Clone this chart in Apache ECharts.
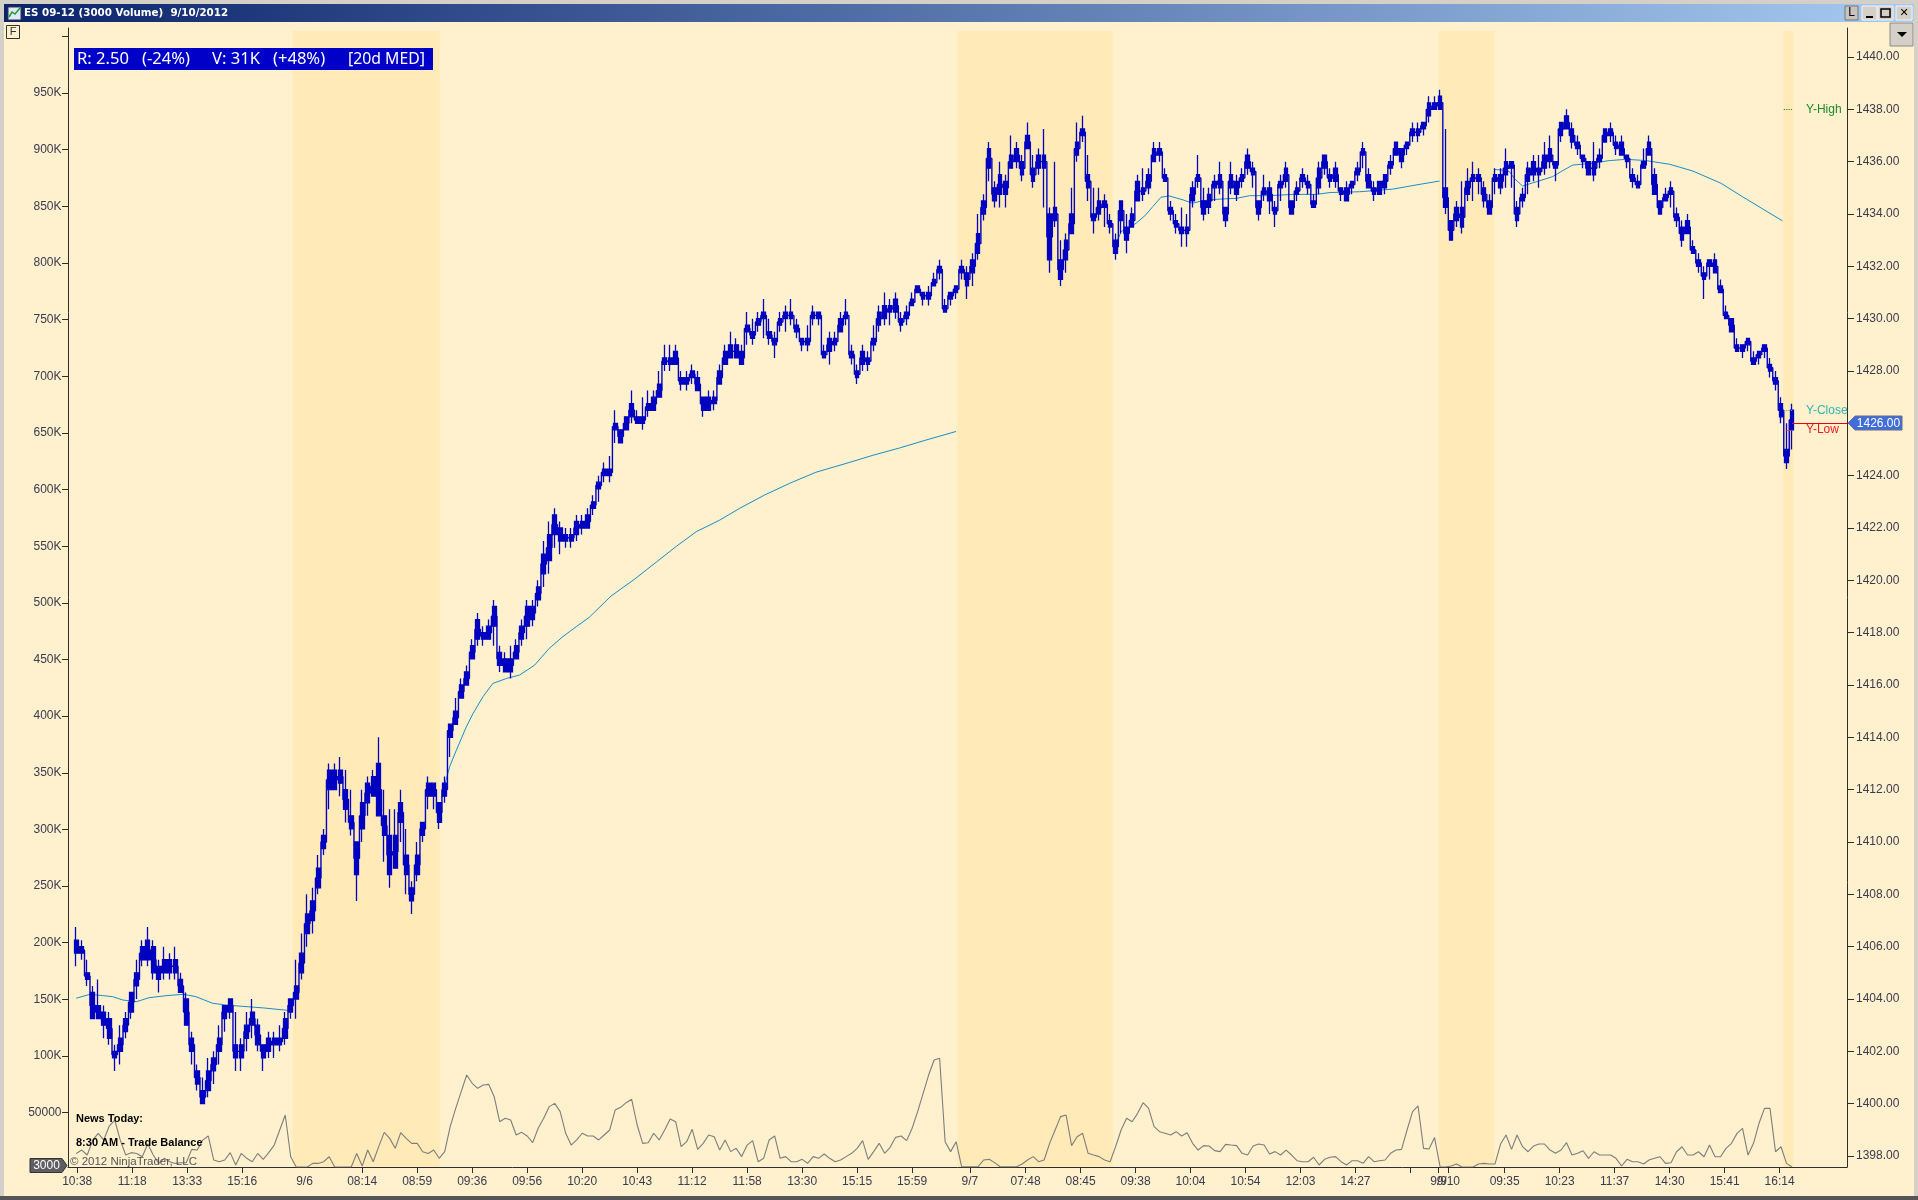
<!DOCTYPE html>
<html><head><meta charset="utf-8"><title>ES 09-12</title>
<style>html,body{margin:0;padding:0;background:#fff1cd}#c{width:1918px;height:1200px}</style>
<script src="https://cdn.jsdelivr.net/npm/echarts@6/dist/echarts.min.js"></script>
</head><body><div id="c"></div>
<script>
// Each row: [high, bodyTop, bodyBottom, low], one row per 4 bars
const sep5Bars=[
[1406.75,1406.25,1405.75,1405.25],[1406.25,1406,1405.75,1405.5],[1405.5,1405,1404.75,1404.5],[1404.5,1404.25,1403.25,1403.25],[1404.75,1403.75,1403.25,1403.25],
[1403.75,1403.5,1403,1402.5],[1403.5,1403.25,1402.5,1402.25],[1402.25,1402,1401.75,1401.25],[1403,1402.5,1402,1401.5],[1403.5,1403.25,1402.75,1402.5],
[1404.25,1404.25,1403.5,1403.25],[1405.5,1405,1404.5,1404],[1406.25,1406,1405.5,1405.25],[1406.75,1406.25,1405.5,1405.25],[1406.25,1406,1405,1404.75],
[1405.5,1405.25,1404.75,1404.25],[1406,1405.5,1405,1404.75],[1405.75,1405.5,1405,1404.75],[1406,1405.5,1405,1404.75],[1405,1404.75,1404.25,1404.25],
[1404.25,1404,1403,1403],[1402.75,1402.5,1402,1401.5],[1401.5,1401.25,1400.75,1400.5],[1401,1400.5,1400,1400],[1401.75,1401.25,1400.5,1400.25],
[1402,1401.75,1401.25,1400.75],[1403,1402.5,1402,1401.5],[1403.75,1403.75,1403.25,1402.75],[1404,1404,1403.5,1403.25],[1403.5,1402.25,1401.75,1401.25],
[1402.5,1402.25,1401.75,1401.25],[1403.5,1403,1402.5,1402],[1404,1403.5,1403,1402.5],[1403.25,1403,1402.25,1402],[1402.25,1402.25,1401.75,1401.25],
[1402.75,1402.5,1402,1401.75],[1402.75,1402.5,1402.25,1401.75],[1403,1402.5,1402.25,1402],[1403.5,1403.25,1402.5,1402.25],[1404,1404,1403.5,1403.25]];
const sep6Bars=[
[1405.5,1404.5,1404,1403.25],[1406.5,1405.75,1405,1404.75],[1408,1407.25,1406.5,1406],[1408.25,1407.75,1407,1406.5],[1409.5,1409,1408.25,1408],
[1410.5,1410.25,1409.75,1409.5],[1413,1412.75,1412,1411.25],[1413,1412.75,1412,1412],[1413.25,1412.75,1412.25,1411.75],[1412.75,1412,1411.25,1410.75],
[1412,1411,1410.5,1410.25],[1410,1410,1408.75,1407.75],[1412,1411.5,1410.5,1410],[1412.5,1412.25,1411.5,1411],[1412.75,1412.5,1411.75,1411.75],
[1414,1413,1411,1411],[1412,1411,1410.25,1409.25],[1411.25,1410.25,1408.75,1408.25],[1411.25,1410.25,1409,1409],[1412,1411.5,1410.75,1410],
[1410.5,1409.5,1408.75,1408],[1408.5,1408.25,1407.75,1407.25],[1410,1409.5,1408.75,1408.5],[1410.75,1410.75,1410.25,1410],[1412.5,1412.25,1411.75,1411.25],
[1412.25,1412.25,1411.75,1411.25],[1411.5,1411.5,1410.75,1410.5],[1412.5,1412.25,1411.75,1411.5],[1414.5,1414.5,1414,1413.25],[1415.5,1415,1414.5,1414.5],
[1416.25,1416,1415.5,1415.5],[1416.75,1416.5,1416,1416],[1417.75,1417.5,1417,1417],[1418.75,1418.5,1417.75,1417.5],[1418.25,1418,1417.75,1417.5],
[1418.5,1418.25,1417.75,1417.75],[1419.25,1419,1418.25,1417.5],[1417.5,1417.25,1416.75,1416.5],[1417.25,1417,1416.5,1416.5],[1417.5,1417,1416.5,1416.25],
[1417.75,1417.5,1417,1417],[1418.5,1418.25,1417.75,1417.5],[1419.25,1419,1418.25,1417.75],[1419.25,1419,1418.5,1418.25],[1420,1419.75,1419.25,1419],
[1421.5,1421,1420.25,1419.75],[1422.25,1421.75,1420.75,1420.25],[1422.75,1422.5,1421.75,1421.25],[1422.25,1422,1421.5,1421],[1422,1421.75,1421.5,1421.25],
[1422,1421.75,1421.5,1421.25],[1422.5,1422.25,1421.75,1421.5],[1422.5,1422.25,1422,1421.75],[1422.75,1422.5,1422,1422],[1423.25,1423,1422.75,1422.5],
[1424,1423.75,1423.5,1423],[1424.5,1424.25,1424,1423.75],[1424.75,1424.25,1424,1423.75],[1426.5,1426,1425.75,1425.25],[1425.75,1425.75,1425.25,1425.25],
[1426.25,1426.25,1425.75,1425.75],[1427.25,1426.75,1426.25,1426],[1426.5,1426.25,1426,1426],[1427,1426.25,1426,1425.75],[1427.25,1426.75,1426.5,1426.25],
[1427.25,1427,1426.5,1426.5],[1428,1427.5,1427,1427],[1429,1428.5,1428.25,1428],[1429,1428.5,1428.25,1428],[1429,1428.75,1428.25,1428.25],
[1428,1427.75,1427.5,1427.25],[1428,1427.75,1427.5,1427.25],[1428.25,1428,1427.75,1427.5],[1428,1427.75,1427.25,1427.25],[1427,1427,1426.5,1426.25],
[1427.25,1427,1426.5,1426.5],[1427.25,1427,1426.75,1426.5],[1428.25,1428,1427.5,1427.5],[1429,1428.75,1428.25,1428.25],[1429.5,1429,1428.5,1428.5],
[1429.25,1429,1428.5,1428.5],[1429,1428.75,1428.25,1428.25],[1430.25,1429.75,1429.5,1429],[1430,1429.5,1429.25,1429],[1430.25,1430,1429.75,1429.5],
[1430.75,1430.25,1430,1429.25],[1430,1429.5,1429.25,1429],[1429.5,1429.25,1429,1428.5],[1430.25,1430,1429.75,1429.5],[1430.5,1430.25,1430,1429.5],
[1430.75,1430.25,1430,1429.75],[1430,1429.75,1429.5,1429.25],[1429.25,1429.25,1429,1428.75],[1429.75,1429.25,1429,1428.75],[1430.5,1430.25,1430,1429.75],
[1430.25,1430.25,1430,1429.75],[1429,1428.75,1428.5,1428.5],[1429.5,1429.25,1428.75,1428.25],[1429.5,1429.25,1429,1428.75],[1430.25,1430,1429.5,1429.5],
[1430.75,1430.25,1430,1429.75],[1429,1428.75,1428.5,1428.25],[1428.25,1428,1427.75,1427.5],[1429,1428.75,1428.25,1428],[1428.75,1428.5,1428.25,1428],
[1429.75,1429.25,1429,1428.75],[1430.5,1430.25,1429.75,1429.5],[1431,1430.5,1430,1429.75],[1430.75,1430.5,1430.25,1429.75],[1431,1430.75,1430.25,1430],
[1430.25,1430,1429.75,1429.5],[1430.5,1430.25,1430,1429.75],[1431,1430.75,1430.5,1430.5],[1431.25,1431.25,1431,1431],[1431,1431,1430.75,1430.5],
[1431.25,1431,1430.75,1430.5],[1431.75,1431.5,1431.25,1431.25],[1432.25,1432,1431.75,1431.5],[1430.75,1430.5,1430.25,1430.25],[1431,1431,1430.75,1430.5],
[1431.25,1431.25,1431,1430.75]];
const sep7Bars=[
[1432.25,1432,1431.75,1431.5],[1432,1431.75,1431.25,1430.75],[1432.5,1432.25,1431.75,1431.25],[1434,1433.25,1432.5,1432.25],[1434.75,1434.5,1434,1433.75],
[1436.75,1436.5,1435.75,1435.25],[1435.25,1435,1434.5,1434.25],[1436,1435.5,1434.75,1434.25],[1435.5,1435.25,1434.75,1434.25],[1437,1436.25,1435.75,1435.75],
[1436.75,1436.5,1436,1435.75],[1436.25,1436,1435.5,1435.25],[1437.5,1437,1436.5,1436.5],[1436.25,1435.75,1435.25,1435],[1436.5,1436.25,1435.75,1435.5],
[1437.25,1436.25,1435.75,1434.25],[1434.25,1434,1432.25,1431.75],[1436,1434.25,1433.75,1433.5],[1433,1432.25,1431.5,1431.25],[1433.25,1433,1432.25,1431.75],
[1435,1434,1433.25,1433.25],[1437.5,1436.75,1436.25,1436],[1437.75,1437.25,1437,1436.75],[1436.25,1435.5,1435,1434.5],[1435,1434,1433.75,1433.25],
[1435,1434.5,1434,1433.75],[1434.75,1434.5,1434.25,1433.5],[1434,1433.75,1433.5,1433.25],[1433.25,1433,1432.5,1432.25],[1434.5,1434.5,1433.75,1433.25],
[1434,1433.5,1433,1432.5],[1434.25,1434,1433.5,1433.5],[1435.5,1435.25,1434.5,1434.5],[1435.75,1435,1434.75,1434.5],[1435.75,1435.5,1435,1434.75],
[1436.75,1436.5,1436,1436],[1436.75,1436.5,1436.25,1436],[1435.75,1435.5,1435.25,1435.25],[1434.5,1434.25,1434,1433.75],[1434,1433.75,1433.5,1433.25],
[1434.25,1433.5,1433.25,1432.75],[1434,1433.5,1433.25,1432.75],[1435.25,1435,1434.5,1434.25],[1436.25,1435.5,1435.25,1435],[1435,1434.5,1434,1433.75],
[1435,1434.75,1434.25,1434],[1435.5,1435.25,1435,1434.5],[1436,1435.5,1435,1434.75],[1434.25,1434.25,1433.75,1433.5],[1436,1435.5,1435,1434.75],
[1435.5,1435.25,1434.75,1434.5],[1435.75,1435.5,1435.25,1435],[1436.5,1436.25,1435.75,1435.5],[1436,1435.75,1435.5,1435],[1434.5,1434.5,1434,1433.75],
[1435.5,1435,1434.75,1434.5],[1435.25,1435,1434.5,1434],[1434.5,1434.25,1434,1433.5],[1435.5,1435.25,1435,1434.5],[1436,1435.75,1435.25,1435],
[1434.5,1434.5,1434,1434],[1435.25,1435,1434.75,1434.5],[1435.75,1435.5,1435.25,1435],[1435.5,1435.25,1435,1434.75],[1434.75,1434.5,1434.25,1434.25],
[1436,1435.75,1435,1434.75],[1436.25,1436.25,1435.75,1435.5],[1435.75,1435.5,1435.25,1435],[1436,1435.75,1435.25,1435],[1435,1435,1434.75,1434.5],
[1435.25,1435,1434.5,1434.5],[1435.25,1435.25,1435,1434.75],[1436,1435.75,1435.5,1435.25],[1436.75,1436.5,1436.25,1435.75],[1435.75,1435.5,1435,1435],
[1435.25,1435,1434.75,1434.5],[1435.25,1435.25,1434.75,1434.75],[1435.5,1435.5,1435,1434.75],[1436.25,1436,1435.75,1435.5],[1436.75,1436.75,1436.25,1436.25],
[1436.5,1436.5,1436,1435.75],[1436.75,1436.75,1436.5,1436.25],[1437.5,1437.25,1437,1436.75],[1437.5,1437.25,1437,1436.75],[1437.5,1437.5,1437.25,1437],
[1438.5,1438.25,1437.75,1437.5],[1438.5,1438.25,1438,1438],[1438.75,1438.5,1438,1438]];
const sep10Bars=[
[1437.25,1435,1434.25,1434],[1433.75,1433.75,1433,1433],[1434.5,1434.25,1433.75,1433.5],[1435.25,1434.25,1433.5,1433.25],[1435.75,1435.25,1434.75,1434.5],
[1436,1435.5,1435.25,1434.5],[1435.75,1435.5,1435.25,1434.75],[1435.25,1435,1434.5,1434.25],[1434.75,1434.5,1434,1434],[1435.75,1435.5,1435.25,1434.75],
[1435.75,1435.5,1435,1434.75],[1436.5,1436,1435.5,1435],[1436,1436,1435.75,1435],[1434.5,1434.25,1433.75,1433.5],[1435,1434.75,1434.5,1434.25],
[1436,1435.75,1435.25,1434.75],[1436.25,1436,1435.5,1435.25],[1436.25,1435.75,1435.5,1435],[1436.75,1436.25,1435.75,1435.5],[1437,1436.5,1436,1435.75],
[1436,1436,1435.75,1435.25],[1437.5,1437.5,1437,1436.75],[1438,1437.75,1437.25,1437.25],[1437.5,1437.25,1436.75,1436.5],[1437,1436.75,1436.5,1436.25],
[1436.25,1436.25,1436,1435.75],[1436,1436,1435.5,1435.5],[1436.75,1436,1435.5,1435.25],[1436.5,1436.25,1436,1435.75],[1437.25,1437.25,1436.75,1436.75],
[1437.5,1437.25,1437,1436.75],[1437,1436.75,1436.5,1436.25],[1437,1436.75,1436.25,1436.25],[1436.25,1436.25,1436,1435.75],[1435.75,1435.5,1435.25,1435],
[1435.5,1435.25,1435,1435],[1436.5,1436,1435.75,1435.75],[1437,1436.75,1436.25,1436.25],[1435.75,1435.5,1434.75,1434.75],[1434.5,1434.5,1434,1434],
[1435,1434.75,1434.5,1434.5],[1435.25,1435,1434.75,1434.25],[1434.25,1434,1433.75,1433.5],[1433.75,1433.5,1433,1432.75],[1434,1433.75,1433.25,1433.25],
[1433,1432.75,1432.5,1432.5],[1432.5,1432.25,1432,1431.75],[1432,1431.75,1431.5,1430.75],[1432.25,1432.25,1432,1431.5],[1432.5,1432.25,1431.75,1431.75],
[1431.5,1431.25,1431,1431],[1430.5,1430.25,1430,1430],[1430,1430,1429.5,1429.5],[1429.25,1429,1428.75,1428.75],[1429,1429,1428.75,1428.5],
[1429.25,1429.25,1429,1428.75],[1428.75,1428.5,1428.25,1428.25],[1428.75,1428.75,1428.5,1428.25],[1429,1429,1428.75,1428.5],[1428.5,1428.25,1428,1427.75],
[1428,1427.75,1427.5,1427.25],[1427,1426.75,1426.25,1426],[1426,1425,1424.5,1424.25],[1426.75,1426.5,1425.75,1425]];

// Volume in thousands, same spacing as the price rows
const sep5VolumeK=[14,17,12.6,25.8,31.7,25.8,38.2,43.5,25.8,12.6,14.7,14,11.1,22.3,12.6,5.2,9.7,6.7,5.2,5.8,5.8,17.6,17,25.8,29.4,8.2,6.7,8.2,14.7,3.8,14,9.7,6.7,14,8.8,14.7,21.4,34.7,47.9,11.1];
const sep6VolumeK=[2,2,2,5.2,5.2,6.7,11.1,2,2,2,2,14,2.9,17,6.7,20,32.6,27.3,18.5,32.3,27.3,22.9,22.9,15.5,14,17,9.7,
15.6,37.6,53.8,68.5,83.2,75.9,71.5,74.4,75,64.1,42,45,43.5,30.3,32.6,29.4,23.5,36.2,45,55.3,58.2,50.9,31.8,21.4,25.9,31.8,29.4,29.4,25.9,30.3,34.7,52.3,54.7,58.8,61.8,39.1,22.9,23.5,31.8,25.9,34.7,44.4,42,20,24.4,35.3,17.6,22.9,30.3,28.8,17,25.9,15.6,18.5,11.2,21.4,25.3,6.7,9.7,25.9,29.4,9.7,11.2,6.7,6.7,8.8,5.3,11.2,9.7,13.5,9.7,6.7,8.2,11.2,14.1,18.5,25.3,8.8,15.6,22.9,14.1,19.4,28.2,29.4,25.3,36.2,50.9,67,83.2,96.5,98,24.4,15.6,24.4];
const sep7VolumeK=[2.3,2.3,2.3,2.3,8.2,8.8,5.9,2.3,2.3,2.3,2.3,4.7,8.2,11.2,6.7,8.2,22.9,34.7,46.5,47.9,20.9,28.8,31.8,14.1,12.6,11.2,8.2,6.7,20,34.7,45,42,49.4,58.8,53.8,37.6,33.2,31.8,30.3,33.2,29.4,32.3,22.9,17,20.9,20.6,16.5,15.6,22,21.4,20.9,14.1,12.6,20.6,22.3,21.4,13.5,15.6,12.6,17,12.6,7.6,6.7,6.7,10.6,3.8,8.8,10.6,11.2,6.7,3.8,7.6,7.6,5.3,11.2,6.7,7.6,8.2,14.1,17,17.6,34.7,50.9,55.9,18.5,17.9,28,2.3];
const sep10VolumeK=[2,2.9,4.7,2,2,2,4.7,5.2,4.7,4.7,22.3,30.3,17.6,30.3,20,15.5,20.5,22.3,22.3,17,14.1,17,23.5,12.6,14.1,16.4,9.7,15.5,12.6,12.6,12.6,9.7,2.9,8.8,6.7,6.7,4.7,8.2,9.7,11.1,5.2,5.8,15.5,19.9,12.6,12.6,15.5,11.1,21.4,11.1,11.1,18.5,22.9,31.7,36.1,12.6,22.9,40.6,53.8,53.8,15.5,19.9,5.2,2];

// Moving average: [bar number, price]
const maSep5=[[6,1404.03],[16,1404.18],[25,1404.13],[32.5,1404.09],[40,1403.96],[50,1403.9],[59,1404.05],[72,1404.13],[84,1404.18],[93,1404.09],[105,1403.84],[115,1403.77],[127,1403.72],[142,1403.66],[161,1403.56]];
const maSep6=[[271.6,1411.67],[275,1412.37],[277.6,1412.88],[282.5,1413.51],[289.7,1414.4],[294.5,1414.9],[301.8,1415.55],[309,1416.06],[319,1416.25],[328.5,1416.38],[339.4,1416.76],[350,1417.4],[360,1417.85],[369.7,1418.23],[379,1418.58],[395,1419.4],[412,1420.04],[428,1420.7],[442.5,1421.3],[457,1421.86],[474,1422.3],[488.5,1422.75],[506.7,1423.26],[525,1423.71],[544,1424.13],[568,1424.5],[585.5,1424.78],[605,1425.06],[624,1425.36],[646,1425.69]];
const maSep7=[[760,1432.95],[763.6,1433.01],[766,1433.33],[771,1433.46],[777,1433.65],[784,1433.97],[789,1434.28],[795,1434.64],[801,1434.69],[811,1434.54],[818,1434.41],[825.5,1434.51],[835,1434.56],[850,1434.6],[859.5,1434.7],[874,1434.7],[891,1434.75],[908,1434.75],[918,1434.82],[939.4,1434.85],[963.6,1434.95],[980.7,1435.11],[997.6,1435.26]];
const maSep10=[[1037.6,1435.7],[1043.6,1435.68],[1048.5,1435.62],[1052,1435.36],[1058,1435.07],[1068,1435.23],[1080,1435.43],[1087.3,1435.66],[1094.5,1435.87],[1109,1435.94],[1121,1436.04],[1133.4,1436.09],[1148,1436.04],[1165,1435.9],[1182,1435.64],[1202.5,1435.17],[1218,1434.66],[1247,1433.74]];

// Tick labels and their bar numbers
const timeLabels=['10:38','11:18','13:33','15:16','9/6','08:14','08:59','09:36','09:56','10:20','10:43','11:12','11:58','13:30','15:15','15:59','9/7','07:48','08:45','09:38','10:04','10:54','12:03','14:27','9/9','9/10','09:35','10:23','11:37','14:30','15:41','16:14'];
const timeLabelBars=[6.7,46.7,86.7,126.7,172,214,254,294,334,374,414,454,494,534,574,614,656,696.5,736.5,776.5,816.5,856.5,896.5,936.5,997,1004,1045,1085,1125,1165,1205,1245];
const timeTickBars=[6.7,46.7,86.7,126.7,214,254,294,334,374,414,454,494,534,574,614,656,696.5,736.5,776.5,816.5,856.5,896.5,936.5,976.5,997,1004,1045,1085,1125,1165,1205,1245];
const volumeLabels=[50000,100000,150000,200000,250000,300000,350000,400000,450000,500000,550000,600000,650000,700000,750000,800000,850000,900000,950000];
const volumeTicks=volumeLabels.concat([1000000]);
const priceTicks=[1398,1400,1402,1404,1406,1408,1410,1412,1414,1416,1418,1420,1422,1424,1426,1428,1430,1432,1434,1436,1438,1440];

// Overnight shading in bar numbers
const bandStarts=[163.4,647,997,1247.7];
const bandEnds=[270.3,760,1037.6,1255];

const yHigh=1438, yClose=1426.5, yLow=1425.75, lastPrice=1426;
const firstBar=6, barsPerRow=4;

const priceBars=[].concat(sep5Bars,sep6Bars,sep7Bars,sep10Bars);
const volumeK=[].concat(sep5VolumeK,sep6VolumeK,sep7VolumeK,sep10VolumeK);
const candleData=priceBars.map((b,i)=>[firstBar+barsPerRow*i,b[2],b[1],b[3],b[0]]);
const stepData=priceBars.map((b,i)=>[firstBar+barsPerRow*i,(b[1]+b[2])/2]);
const volumeData=volumeK.map((v,i)=>[firstBar+barsPerRow*i,v*1000]);

const BLUE='#0000c0', AXIS='#2e2e2e', TXT='#3b3a4e';
const maSeries=(d)=>({type:'line',yAxisIndex:1,data:d,symbol:'none',z:4,silent:true,lineStyle:{color:'#1a8cc8',width:1}});
const level=(y,x0,x1,label,color,type)=>[{coord:[x0,y],lineStyle:{color,width:1.2,type},label:{show:!!label,formatter:label,position:'end',distance:14,color,fontSize:12,fontFamily:'Liberation Sans',padding:[5,0,0,0]}},{coord:[x1,y]}];

const chart=echarts.init(document.getElementById('c'),null,{renderer:'canvas',width:1918,height:1200});
chart.setOption({
 animation:false,backgroundColor:'#fff1cd',
 grid:{left:68,right:71,top:28,bottom:33},
 xAxis:{type:'value',min:0,max:1294,splitLine:{show:false},
  axisLine:{onZero:false,lineStyle:{color:AXIS,width:1}},
  axisTick:{length:6,lineStyle:{color:AXIS},customValues:timeTickBars},
  axisLabel:{customValues:timeLabelBars,color:TXT,fontSize:12,fontFamily:'Liberation Sans',margin:9,hideOverlap:false,showMinLabel:true,showMaxLabel:true,
   formatter:v=>timeLabels[timeLabelBars.indexOf(v)]||''}},
 yAxis:[
  {type:'value',position:'left',min:2030,max:1007400,splitLine:{show:false},
   axisLine:{show:true,onZero:false,lineStyle:{color:AXIS}},
   axisTick:{show:true,length:6,lineStyle:{color:AXIS},customValues:volumeTicks},
   axisLabel:{customValues:volumeLabels,color:TXT,fontSize:12,fontFamily:'Liberation Sans',margin:6.5,padding:[6,0,0,0],
    formatter:v=>v<100000?String(v):(v/1000)+'K'}},
  {type:'value',position:'right',min:1397.58,max:1441.108,splitLine:{show:false},
   axisLine:{show:true,onZero:false,lineStyle:{color:AXIS}},
   axisTick:{show:true,length:7,lineStyle:{color:AXIS},customValues:priceTicks},
   axisLabel:{customValues:priceTicks,color:TXT,fontSize:12,fontFamily:'Liberation Sans',margin:9,padding:[6,0,0,0],formatter:v=>v.toFixed(2)}}
 ],
 series:[
  {type:'line',yAxisIndex:1,data:[],z:1,silent:true,
   markArea:{silent:true,z:1,itemStyle:{color:'#ffeab8'},
    data:bandStarts.map((s,i)=>[{xAxis:s,yAxis:1440.99},{xAxis:bandEnds[i],yAxis:1397.58}])}},
  {type:'line',yAxisIndex:0,data:volumeData,symbol:'none',z:3,silent:true,lineStyle:{color:'#7d7d7d',width:1.1}},
  maSeries(maSep5),maSeries(maSep6),maSeries(maSep7),maSeries(maSep10),
  {type:'line',yAxisIndex:1,data:stepData,step:'middle',symbol:'none',z:5,silent:true,lineStyle:{color:BLUE,width:1.4}},
  {type:'candlestick',yAxisIndex:1,data:candleData,encode:{x:0,y:[1,2,3,4]},barWidth:4.2,z:5,silent:true,clip:false,
   itemStyle:{color:BLUE,color0:BLUE,borderColor:BLUE,borderColor0:BLUE,borderWidth:1.3},
   markLine:{silent:true,symbol:'none',z:6,animation:false,
    data:[
     level(yHigh,1248,1254,'Y-High','#1b8a2d','dotted'),
     level(yClose,1248,1254,'Y-Close','#2fb6ae','dotted'),
     level(yLow,1250,1254,'Y-Low','#ee1c25','dotted'),
     level(lastPrice,1254,1294,'','#e8000b','solid')
    ]}}
 ],
 graphic:{elements:[
  // window frame
  {type:'rect',shape:{x:0,y:0,width:1918,height:4},style:{fill:'#d4d0c8'},z:20},
  {type:'rect',shape:{x:0,y:0,width:4,height:1200},style:{fill:'#d4d0c8'},z:20},
  {type:'rect',shape:{x:1914,y:0,width:4,height:1200},style:{fill:'#d4d0c8'},z:20},
  {type:'rect',shape:{x:0,y:1196,width:1918,height:4},style:{fill:'#555555'},z:20},
  {type:'rect',shape:{x:4,y:4,width:1910,height:18},z:20,style:{fill:new echarts.graphic.LinearGradient(0,0,1,0,[{offset:0,color:'#0a246a'},{offset:1,color:'#a6caf0'}])}},
  {type:'rect',shape:{x:8,y:7,width:13,height:13},style:{fill:'#dfe8f4',stroke:'#335',lineWidth:1},z:21},
  {type:'polyline',shape:{points:[[9,17],[12,12],[15,14],[20,8]]},style:{stroke:'#1f9d3a',lineWidth:1.5,fill:null},z:22},
  {type:'text',x:24,y:13.5,z:21,style:{text:'ES 09-12 (3000 Volume)  9/10/2012',fill:'#fff',font:'bold 10.3px "DejaVu Sans"',textVerticalAlign:'middle'}},
  // window buttons
  {type:'rect',shape:{x:1845,y:6,width:13,height:14},style:{fill:'#c8c4bc',stroke:'#777',lineWidth:1},z:21},
  {type:'text',x:1851.5,y:13,z:22,style:{text:'L',fill:'#002',font:'12px "Liberation Sans"',textAlign:'center',textVerticalAlign:'middle'}},
  {type:'rect',shape:{x:1862,y:6,width:15,height:14},style:{fill:'#d4d0c8',stroke:'#f5f5f5',lineWidth:1},z:21},
  {type:'rect',shape:{x:1866,y:16,width:7,height:2},style:{fill:'#000'},z:22},
  {type:'rect',shape:{x:1878,y:6,width:15,height:14},style:{fill:'#d4d0c8',stroke:'#f5f5f5',lineWidth:1},z:21},
  {type:'rect',shape:{x:1881,y:9,width:9,height:8},style:{fill:'none',stroke:'#000',lineWidth:1.5},z:22},
  {type:'rect',shape:{x:1896,y:6,width:16,height:14},style:{fill:'#d4d0c8',stroke:'#f5f5f5',lineWidth:1},z:21},
  {type:'text',x:1904,y:13,z:22,style:{text:'✕',fill:'#000',font:'11px "DejaVu Sans"',textAlign:'center',textVerticalAlign:'middle'}},
  // F button and dropdown
  {type:'rect',shape:{x:6.5,y:25.5,width:13,height:13},style:{fill:'none',stroke:'#333',lineWidth:1},z:21},
  {type:'text',x:13,y:32,z:22,style:{text:'F',fill:'#333',font:'11px "Liberation Sans"',textAlign:'center',textVerticalAlign:'middle'}},
  {type:'rect',shape:{x:1890,y:23,width:23,height:23},style:{fill:'#d4d0c8',stroke:'#8a8a8a',lineWidth:1},z:21},
  {type:'polygon',shape:{points:[[1897,32],[1907,32],[1902,37]]},style:{fill:'#000'},z:22},
  // blue info box
  {type:'rect',shape:{x:74,y:48,width:359,height:22},style:{fill:'#0000c8'},z:21},
  {type:'text',x:77,y:59.5,z:22,style:{text:'R: 2.50   (-24%)',fill:'#fff',font:'16.6px "Noto Sans"',textVerticalAlign:'middle'}},
  {type:'text',x:212,y:59.5,z:22,style:{text:'V: 31K   (+48%)',fill:'#fff',font:'16.6px "Noto Sans"',textVerticalAlign:'middle'}},
  {type:'text',x:348,y:59.5,z:22,style:{text:'[20d MED]',fill:'#fff',font:'15.8px "Noto Sans"',textVerticalAlign:'middle'}},
  // notes
  {type:'text',x:76,y:1118.5,z:22,style:{text:'News Today:',fill:'#000',font:'bold 11px "Liberation Sans"',textVerticalAlign:'middle'}},
  {type:'text',x:76,y:1142.5,z:22,style:{text:'8:30 AM - Trade Balance',fill:'#000',font:'bold 11px "Liberation Sans"',textVerticalAlign:'middle'}},
  {type:'text',x:70,y:1161.5,z:22,style:{text:'© 2012 NinjaTrader, LLC',fill:'#555',font:'11.5px "Liberation Sans"',textVerticalAlign:'middle'}},
  // axis tags
  {type:'polygon',shape:{points:[[30,1158.5],[62,1158.5],[67,1165.5],[62,1172.5],[30,1172.5]]},style:{fill:'#5e5e62',stroke:'#333',lineWidth:1},z:21},
  {type:'text',x:46.5,y:1166,z:22,style:{text:'3000',fill:'#fff',font:'12px "Liberation Sans"',textAlign:'center',textVerticalAlign:'middle'}},
  {type:'polygon',shape:{points:[[1848,423],[1855,416],[1902,416],[1902,430],[1855,430]]},style:{fill:'#3f6ddc',stroke:'#6f6f80',lineWidth:1},z:21},
  {type:'text',x:1878.5,y:423.5,z:22,style:{text:'1426.00',fill:'#fff',font:'12px "Liberation Sans"',textAlign:'center',textVerticalAlign:'middle'}}
 ]}
});
</script></body></html>
